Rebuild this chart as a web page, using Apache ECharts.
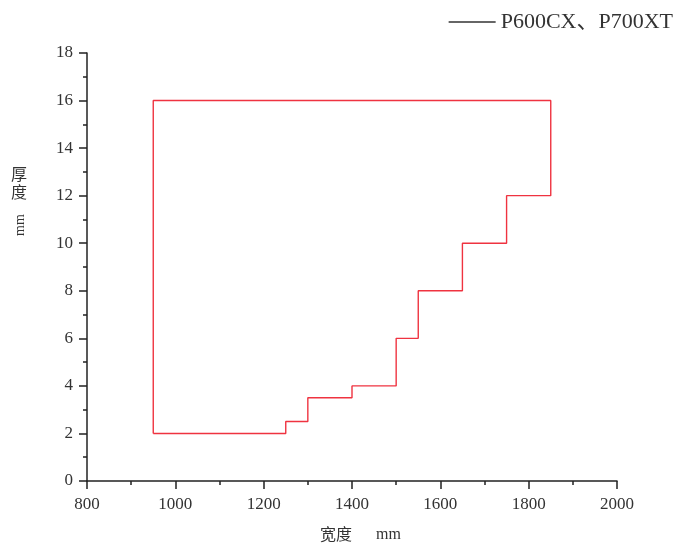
<!DOCTYPE html>
<html>
<head>
<meta charset="utf-8">
<script src="https://cdn.jsdelivr.net/npm/echarts@6/dist/echarts.min.js"></script>
<style>
  html, body { margin: 0; padding: 0; background: #fff; }
  #chart { width: 679px; height: 545px; }
</style>
</head>
<body>
<div id="chart"></div>
<script>
// Outline of the producible range: width (mm) vs. thickness (mm)
const seriesName = 'P600CX、P700XT';
const widths      = [950, 1250, 1250, 1300, 1300, 1400, 1400, 1500, 1500, 1550, 1550, 1650, 1650, 1750, 1750, 1850, 1850, 950, 950];
const thicknesses = [2,   2,    2.5,  2.5,  3.5,  3.5,  4,    4,    6,    6,    8,    8,    10,   10,   12,   12,   16,   16,  2];

const xTicks = [800, 1000, 1200, 1400, 1600, 1800, 2000];
const yTicks = [0, 2, 4, 6, 8, 10, 12, 14, 16, 18];

const latin = '"Liberation Serif", "Noto Sans CJK SC", serif';
const cjk = '"Noto Sans CJK SC", sans-serif';
const axisColor = '#222';
const textColor = '#333';

const chart = echarts.init(document.getElementById('chart'));
chart.setOption({
  animation: false,
  backgroundColor: '#fff',
  grid: { left: 87, right: 62, top: 53, bottom: 64 },
  legend: {
    data: [{ name: seriesName, icon: 'rect', itemStyle: { color: '#333' } }],
    right: 1, top: 6,
    itemWidth: 47, itemHeight: 1.5, itemGap: 9,
    textStyle: { fontFamily: latin, fontSize: 22, color: textColor }
  },
  xAxis: {
    type: 'value',
    min: xTicks[0], max: xTicks[xTicks.length - 1], interval: 200,
    axisLine: { show: true, lineStyle: { color: axisColor, width: 1.5 } },
    axisTick: { show: true, length: 8, lineStyle: { color: axisColor, width: 1.5 } },
    minorTick: { show: true, splitNumber: 2, length: 4, lineStyle: { color: axisColor, width: 1.5 } },
    splitLine: { show: false },
    axisLabel: { margin: 15, fontFamily: latin, fontSize: 17, color: textColor,
                 formatter: v => String(v) }
  },
  yAxis: {
    type: 'value',
    min: yTicks[0], max: yTicks[yTicks.length - 1], interval: 2,
    axisLine: { show: true, lineStyle: { color: axisColor, width: 1.5 } },
    axisTick: { show: true, length: 8, lineStyle: { color: axisColor, width: 1.5 } },
    minorTick: { show: true, splitNumber: 2, length: 4, lineStyle: { color: axisColor, width: 1.5 } },
    splitLine: { show: false },
    axisLabel: { margin: 14, fontFamily: latin, fontSize: 17, color: textColor,
                 formatter: v => String(v) }
  },
  graphic: [
    { type: 'text', left: 320, top: 526, style: { text: '宽度', font: '16px ' + cjk, fill: textColor } },
    { type: 'text', left: 376, top: 527, style: { text: 'mm', font: '16px ' + latin, fill: textColor } },
    { type: 'text', left: 11, top: 166, style: { text: '厚', font: '16px ' + cjk, fill: textColor } },
    { type: 'text', left: 11, top: 184, style: { text: '度', font: '16px ' + cjk, fill: textColor } },
    { type: 'text', x: 13, y: 236, rotation: Math.PI / 2,
      style: { text: 'mm', font: '14px ' + latin, fill: textColor, textVerticalAlign: 'top' } }
  ],
  series: [{
    name: seriesName,
    type: 'line',
    data: widths.map((w, i) => [w, thicknesses[i]]),
    showSymbol: false,
    symbol: 'none',
    lineStyle: { color: '#ef3340', width: 1.4 },
    itemStyle: { color: '#ef3340' }
  }]
});
</script>
</body>
</html>
